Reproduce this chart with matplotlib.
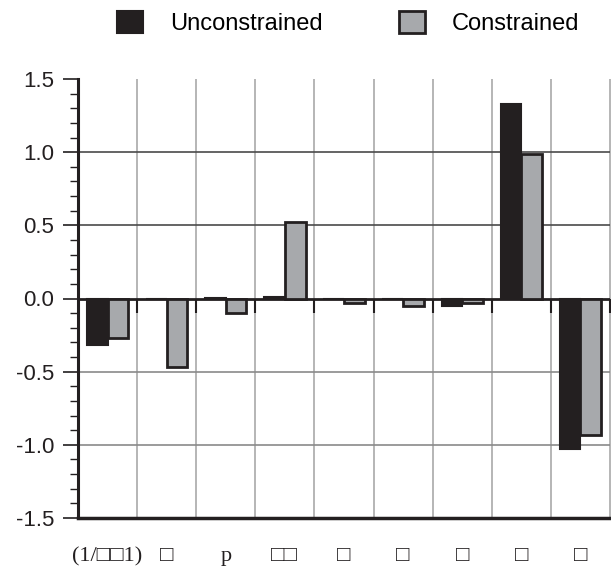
import numpy as np
import matplotlib
matplotlib.use("Agg")
import matplotlib.pyplot as plt
from matplotlib.patches import Patch
from matplotlib.ticker import MultipleLocator

# ---- data ----
categories = ["(1/\u25a1\u25a11)", "\u25a1", "p", "\u25a1\u25a1", "\u25a1", "\u25a1", "\u25a1", "\u25a1", "\u25a1"]
unconstrained = [-0.32, 0.0, 0.005, 0.01, 0.0, 0.0, -0.05, 1.33, -1.03]
constrained = [-0.27, -0.47, -0.10, 0.52, -0.03, -0.05, -0.03, 0.99, -0.93]
series_names = ["Unconstrained", "Constrained"]
yticks = [-1.5, -1.0, -0.5, 0.0, 0.5, 1.0, 1.5]

BLACK = "#231f20"
GRAY = "#a7a9ac"

fig = plt.figure(figsize=(6.11, 5.73), dpi=100)
ax = fig.add_axes([78 / 611, 1 - 518 / 573, (610 - 78) / 611, (518 - 79) / 573])

n = len(categories)
x = np.arange(n)
bounds = np.arange(n + 1) - 0.5
w = 0.35

ax.set_xlim(bounds[0], bounds[-1])
ax.set_ylim(yticks[0], yticks[-1])

# grid
ax.vlines(bounds[1:], yticks[0], yticks[-1], color="#b0b0b0", lw=1.3, zorder=0, clip_on=False)
for yv in yticks[1:-1]:
    if yv > 0:
        ax.axhline(yv, color="#4a4a4a", lw=1.2, zorder=1)
    elif yv < 0:
        ax.axhline(yv, color="#8a8a8a", lw=1.2, zorder=1)

# bars
ax.bar(x - w / 2, unconstrained, w, color=BLACK, edgecolor=BLACK, lw=1.5, zorder=4)
ax.bar(x + w / 2, constrained, w, color=GRAY, edgecolor=BLACK, lw=2, zorder=4)

# zero line and its ticks
ax.axhline(0, color=BLACK, lw=2, zorder=3)
ax.vlines(bounds[1:], -0.1, 0, color=BLACK, lw=1.5, zorder=3, clip_on=False)

# spines
ax.spines["top"].set_visible(False)
ax.spines["right"].set_visible(False)
ax.spines["left"].set_linewidth(2.2)
ax.spines["left"].set_color(BLACK)
ax.spines["bottom"].set_linewidth(2.5)
ax.spines["bottom"].set_color(BLACK)

# y axis
ax.set_yticks(yticks)
ax.set_yticklabels(["%.1f" % v for v in yticks], family="Liberation Sans", fontsize=16, color=BLACK)
ax.yaxis.set_minor_locator(MultipleLocator(0.1))
ax.tick_params(axis="y", which="major", length=11, width=1.2, color=BLACK, pad=6)
ax.tick_params(axis="y", which="minor", length=5.5, width=1.0, color=BLACK)

# x axis
ax.set_xticks(x)
ax.set_xticklabels(categories, family=["Liberation Serif", "DejaVu Serif", "DejaVu Sans"], fontsize=16, color=BLACK)
ax.tick_params(axis="x", length=0, pad=21)

# legend
handles = [Patch(facecolor=BLACK, edgecolor=BLACK, lw=1.5),
           Patch(facecolor=GRAY, edgecolor=BLACK, lw=2)]
fig.legend(handles, series_names, loc="center", bbox_to_anchor=(0.570, 0.96), ncol=2,
           frameon=False, prop={"family": "Liberation Sans", "size": 17},
           handlelength=1.1, handleheight=1.1, handletextpad=1.15, columnspacing=3.2,
           borderaxespad=0)

fig.savefig("out.png", dpi=100)
